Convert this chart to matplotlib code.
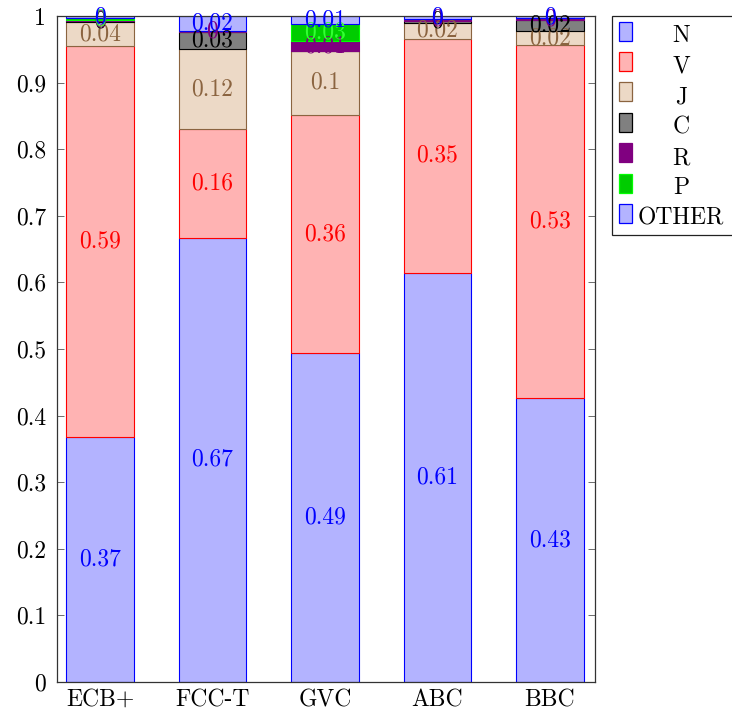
"""Stacked bar chart of class shares per dataset."""

import matplotlib
matplotlib.use('Agg')
import matplotlib.pyplot as plt
from matplotlib.patches import Rectangle

# Data
categories = ['ECB+', 'FCC-T', 'GVC', 'ABC', 'BBC']
series_names = ['N', 'V', 'J', 'C', 'R', 'P', 'OTHER']
N = [0.368, 0.667, 0.494, 0.614, 0.426]
V = [0.587, 0.163, 0.357, 0.352, 0.530]
J = [0.036, 0.120, 0.097, 0.024, 0.022]
C = [0.002, 0.026, 0.0, 0.003, 0.016]
R = [0.001, 0.001, 0.014, 0.003, 0.003]
P = [0.003, 0.0, 0.026, 0.0, 0.0]
OTHER = [0.003, 0.023, 0.012, 0.004, 0.003]
yticks = [0, 0.1, 0.2, 0.3, 0.4, 0.5, 0.6, 0.7, 0.8, 0.9, 1]
ytick_labels = ['0', '0.1', '0.2', '0.3', '0.4', '0.5', '0.6', '0.7', '0.8', '0.9', '1']

series = [N, V, J, C, R, P, OTHER]

# Styles (pgfplots-like)
fills = ['#b3b3ff', '#ffb3b3', '#ecd9c6', '#808080', '#800080', '#00cc00', '#b3b3ff']
edges = ['#0000ff', '#ff0000', '#8b6440', '#000000', '#800080', '#00ff00', '#0000ff']
text_colors = ['#0000ff', '#ff0000', '#8b6440', '#000000', '#800080', '#33ff33', '#0000ff']

FONTSIZE = 17
plt.rcParams['font.family'] = 'serif'
plt.rcParams['font.serif'] = ['cmr10']
plt.rcParams['axes.formatter.use_mathtext'] = True
plt.rcParams['font.size'] = FONTSIZE

W, H = 732, 715
fig = plt.figure(figsize=(W / 100., H / 100.), dpi=100)
ax = fig.add_axes([57. / W, 1 - 682. / H, (595. - 57.) / W, (682. - 16.) / H])

x = list(range(len(categories)))
bottom = [0.0] * len(categories)
for vals, fc, ec, tc in zip(series, fills, edges, text_colors):
    ax.bar(x, vals, width=0.604, bottom=bottom, color=fc, edgecolor=ec,
           linewidth=0.8, zorder=2)
    for xi, v, b in zip(x, vals, bottom):
        if v > 0:
            ax.text(xi, b + v / 2., '%g' % round(v, 2), color=tc,
                    ha='center', va='center', fontsize=FONTSIZE, zorder=3)
    bottom = [b + v for b, v in zip(bottom, vals)]

ax.set_xlim(-0.382, 4.4)
ax.set_ylim(0, 1)
ax.set_xticks(x)
ax.set_xticklabels(categories)
ax.set_yticks(yticks)
ax.set_yticklabels(ytick_labels)
ax.tick_params(axis='y', direction='in', length=5, width=0.6, color='#555555',
               right=True, pad=8, labelsize=FONTSIZE)
ax.tick_params(axis='x', direction='in', length=5, width=0.6, color='#555555',
               top=True, pad=5, labelsize=FONTSIZE)
for s in ax.spines.values():
    s.set_linewidth(0.9)
    s.set_color('#333333')

# Legend drawn by hand to mimic the pgfplots box with centred labels
def fpos(px, py):
    return px / W, 1 - py / H

lx0, ly0, ly1 = 612., 16.5, 235.
fig.add_artist(Rectangle(fpos(lx0, ly1), (W + 10 - lx0) / W, (ly1 - ly0) / H,
                         transform=fig.transFigure, facecolor='white',
                         edgecolor='#222222', linewidth=0.9))
for i, (name, fc, ec) in enumerate(zip(series_names, fills, edges)):
    yc = 31. + 30.4 * i
    fig.add_artist(Rectangle(fpos(618.5, yc + 9.5), 13.5 / W, 19. / H,
                             transform=fig.transFigure, facecolor=fc,
                             edgecolor=ec, linewidth=0.9))
    tx, ty = fpos(681., yc + 11.5)
    fig.text(tx, ty, name, ha='center', va='baseline', fontsize=FONTSIZE)

fig.savefig('out.png', dpi=100)
